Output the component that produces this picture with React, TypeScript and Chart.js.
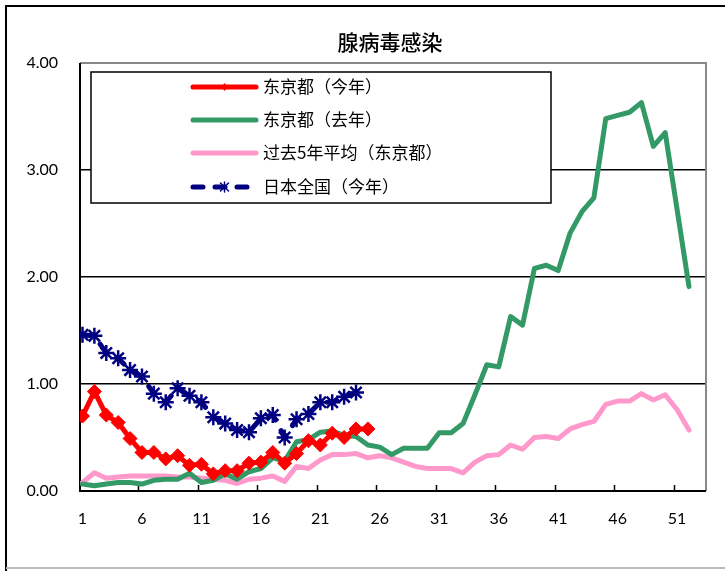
import React, { useEffect, useRef } from "react";
import { Chart, registerables } from "chart.js";

Chart.register(...registerables);

const weeks: number[] = Array.from({ length: 52 }, (_, i) => i + 1);
const xTickLabels: number[] = [1, 6, 11, 16, 21, 26, 31, 36, 41, 46, 51];
const yTickValues: number[] = [0, 1, 2, 3, 4];

const tokyoThisYear: number[] = [
  0.70, 0.93, 0.71, 0.64, 0.49, 0.36, 0.36, 0.30, 0.33, 0.24,
  0.25, 0.16, 0.19, 0.19, 0.26, 0.27, 0.36, 0.26, 0.35, 0.47,
  0.43, 0.54, 0.50, 0.58, 0.58,
];
const tokyoLastYear: number[] = [
  0.065, 0.05, 0.065, 0.08, 0.08, 0.065, 0.10, 0.11, 0.11, 0.165,
  0.08, 0.10, 0.16, 0.11, 0.18, 0.21, 0.31, 0.28, 0.46, 0.48,
  0.55, 0.56, 0.52, 0.51, 0.43, 0.41, 0.34, 0.40, 0.40, 0.40,
  0.545, 0.545, 0.63, 0.90, 1.18, 1.16, 1.63, 1.55, 2.08, 2.11,
  2.06, 2.41, 2.61, 2.74, 3.48, 3.51, 3.54, 3.63, 3.22, 3.35,
  2.63, 1.91,
];
const past5YearAvg: number[] = [
  0.08, 0.17, 0.12, 0.13, 0.14, 0.14, 0.14, 0.14, 0.13, 0.13,
  0.12, 0.11, 0.10, 0.07, 0.11, 0.12, 0.14, 0.09, 0.23, 0.21,
  0.29, 0.34, 0.34, 0.35, 0.31, 0.33, 0.31, 0.27, 0.23, 0.21,
  0.21, 0.21, 0.17, 0.27, 0.33, 0.34, 0.43, 0.39, 0.50, 0.51,
  0.49, 0.58, 0.62, 0.65, 0.81, 0.84, 0.84, 0.91, 0.85, 0.90,
  0.76, 0.57,
];
const japanThisYear: number[] = [
  1.46, 1.45, 1.29, 1.24, 1.13, 1.07, 0.91, 0.83, 0.96, 0.89,
  0.83, 0.69, 0.63, 0.57, 0.55, 0.68, 0.71, 0.50, 0.67, 0.72,
  0.83, 0.83, 0.88, 0.92,
];

const titleText = "腺病毒感染";
const seriesNames: string[] = ["东京都（今年）", "东京都（去年）", "过去5年平均（东京都）", "日本全国（今年）"];
const seriesColors: string[] = ["#FF0000", "#339966", "#FF99CC", "#000080"];

const toPoints = (vals: number[]) => vals.map((v, i) => ({ x: weeks[i], y: v }));

const CJK = '"Noto Sans CJK SC", "Noto Sans", sans-serif';
const NUM = 'Lato, "DejaVu Sans", sans-serif';

const decorPlugin = {
  id: "decor",
  beforeDraw(chart: any) {
    const ctx = chart.ctx;
    ctx.save();
    ctx.fillStyle = "#ffffff";
    ctx.fillRect(0, 0, chart.width, chart.height);
    ctx.strokeStyle = "#000000";
    ctx.lineWidth = 2;
    ctx.beginPath();
    ctx.moveTo(6, chart.height);
    ctx.lineTo(6, 6);
    ctx.lineTo(chart.width, 6);
    ctx.stroke();
    ctx.strokeStyle = "#bbbbbb";
    ctx.lineWidth = 2;
    ctx.beginPath();
    ctx.moveTo(6, 568);
    ctx.lineTo(chart.width, 568);
    ctx.stroke();
    ctx.fillStyle = "#000000";
    ctx.font = `500 21px ${CJK}`;
    ctx.textAlign = "center";
    ctx.textBaseline = "middle";
    ctx.fillText(titleText, 390, 42);
    ctx.restore();
  },
  beforeDatasetsDraw(chart: any) {
    const ctx = chart.ctx;
    const a = chart.chartArea;
    const xs = chart.scales.x;
    ctx.save();
    ctx.strokeStyle = "#888888";
    ctx.lineWidth = 2;
    ctx.beginPath();
    ctx.moveTo(a.left, a.top);
    ctx.lineTo(a.right, a.top);
    ctx.lineTo(a.right, a.bottom);
    ctx.stroke();
    ctx.strokeStyle = "#000000";
    ctx.lineWidth = 2;
    ctx.beginPath();
    ctx.moveTo(a.left, a.top);
    ctx.lineTo(a.left, a.bottom);
    ctx.lineTo(a.right, a.bottom);
    ctx.stroke();
    ctx.lineWidth = 1.5;
    ctx.beginPath();
    for (const v of xTickLabels) {
      if (v === 1) continue;
      const px = Math.round(xs.getPixelForValue(v - 0.3)) + 0.5;
      ctx.moveTo(px, a.bottom);
      ctx.lineTo(px, a.bottom - 6);
    }
    ctx.stroke();
    ctx.restore();
  },
  afterDraw(chart: any) {
    const ctx = chart.ctx;
    ctx.save();
    const bx = 91, by = 72, bw = 460, bh = 131;
    ctx.fillStyle = "#ffffff";
    ctx.fillRect(bx, by, bw, bh);
    ctx.strokeStyle = "#000000";
    ctx.lineWidth = 1.5;
    ctx.strokeRect(bx, by, bw, bh);
    const rows = [87, 120, 153, 187];
    const x0 = 193, x1 = 256;
    for (let i = 0; i < 4; i++) {
      const y = rows[i];
      ctx.strokeStyle = seriesColors[i];
      ctx.lineWidth = 5;
      ctx.lineCap = "round";
      if (i === 3) ctx.setLineDash([10, 12]);
      else ctx.setLineDash([]);
      ctx.beginPath();
      ctx.moveTo(x0, y);
      ctx.lineTo(x1, y);
      ctx.stroke();
      ctx.setLineDash([]);
      const cx = (x0 + x1) / 2;
      if (i === 0) {
        ctx.fillStyle = seriesColors[0];
        ctx.beginPath();
        ctx.moveTo(cx, y - 4);
        ctx.lineTo(cx + 3, y);
        ctx.lineTo(cx, y + 4);
        ctx.lineTo(cx - 3, y);
        ctx.closePath();
        ctx.fill();
      }
      if (i === 3) {
        ctx.strokeStyle = seriesColors[3];
        ctx.lineWidth = 1.5;
        ctx.beginPath();
        ctx.moveTo(cx - 4, y - 4); ctx.lineTo(cx + 4, y + 4);
        ctx.moveTo(cx + 4, y - 4); ctx.lineTo(cx - 4, y + 4);
        ctx.moveTo(cx, y - 5); ctx.lineTo(cx, y + 5);
        ctx.stroke();
      }
      ctx.fillStyle = "#000000";
      ctx.font = `17px ${CJK}`;
      ctx.textAlign = "left";
      ctx.textBaseline = "middle";
      ctx.fillText(seriesNames[i], 263, y);
    }
    ctx.restore();
  },
};

export default function App() {
  const ref = useRef<HTMLCanvasElement | null>(null);
  useEffect(() => {
    if (!ref.current) return;
    const lineBase = {
      tension: 0,
      borderWidth: 5,
      borderJoinStyle: "round" as const,
      borderCapStyle: "round" as const,
      fill: false,
    };
    const chart = new Chart(ref.current, {
      type: "line",
      data: {
        datasets: [
          {
            ...lineBase,
            label: seriesNames[3],
            data: toPoints(japanThisYear),
            borderColor: seriesColors[3],
            backgroundColor: seriesColors[3],
            borderDash: [10, 12],
            pointStyle: "star",
            pointRadius: 8,
            pointBorderWidth: 2.5,
            order: 0,
          },
          {
            ...lineBase,
            label: seriesNames[0],
            data: toPoints(tokyoThisYear),
            borderColor: seriesColors[0],
            backgroundColor: seriesColors[0],
            pointStyle: "rectRot",
            pointRadius: 7,
            pointBorderWidth: 1,
            order: 1,
          },
          {
            ...lineBase,
            label: seriesNames[1],
            data: toPoints(tokyoLastYear),
            borderColor: seriesColors[1],
            backgroundColor: seriesColors[1],
            pointRadius: 0,
            order: 2,
          },
          {
            ...lineBase,
            label: seriesNames[2],
            data: toPoints(past5YearAvg),
            borderColor: seriesColors[2],
            backgroundColor: seriesColors[2],
            pointRadius: 0,
            order: 3,
          },
        ],
      },
      options: {
        responsive: false,
        animation: false,
        devicePixelRatio: 1,
        layout: { padding: { top: 63, right: 19, left: 0, bottom: 0 } },
        plugins: {
          legend: { display: false },
          tooltip: { enabled: false },
          title: { display: false },
        },
        scales: {
          x: {
            type: "linear",
            min: 0.79,
            max: 53.43,
            afterFit: (s: any) => { s.height = 80; },
            afterBuildTicks: (s: any) => { s.ticks = xTickLabels.map((v) => ({ value: v })); },
            grid: { display: false, drawTicks: false },
            border: { display: false },
            ticks: {
              color: "#000000",
              font: { family: NUM, size: 16 },
              padding: 18,
              autoSkip: false,
              maxRotation: 0,
              callback: (v: any) => String(v),
            },
          },
          y: {
            min: 0,
            max: 4,
            afterFit: (s: any) => { s.width = 80; },
            afterBuildTicks: (s: any) => { s.ticks = yTickValues.map((v) => ({ value: v })); },
            grid: {
              color: (c: any) => (c.tick && c.tick.value > 0 && c.tick.value < 4 ? "#000000" : "rgba(0,0,0,0)"),
              lineWidth: 1.5,
              drawTicks: false,
            },
            border: { display: false },
            ticks: {
              color: "#000000",
              font: { family: NUM, size: 16 },
              padding: 22,
              callback: (v: any) => Number(v).toFixed(2),
            },
          },
        },
      },
      plugins: [decorPlugin],
    });
    return () => chart.destroy();
  }, []);
  return (
    <canvas
      ref={ref}
      width={725}
      height={571}
      style={{ position: "fixed", left: 0, top: 0, width: 725, height: 571 }}
    />
  );
}
